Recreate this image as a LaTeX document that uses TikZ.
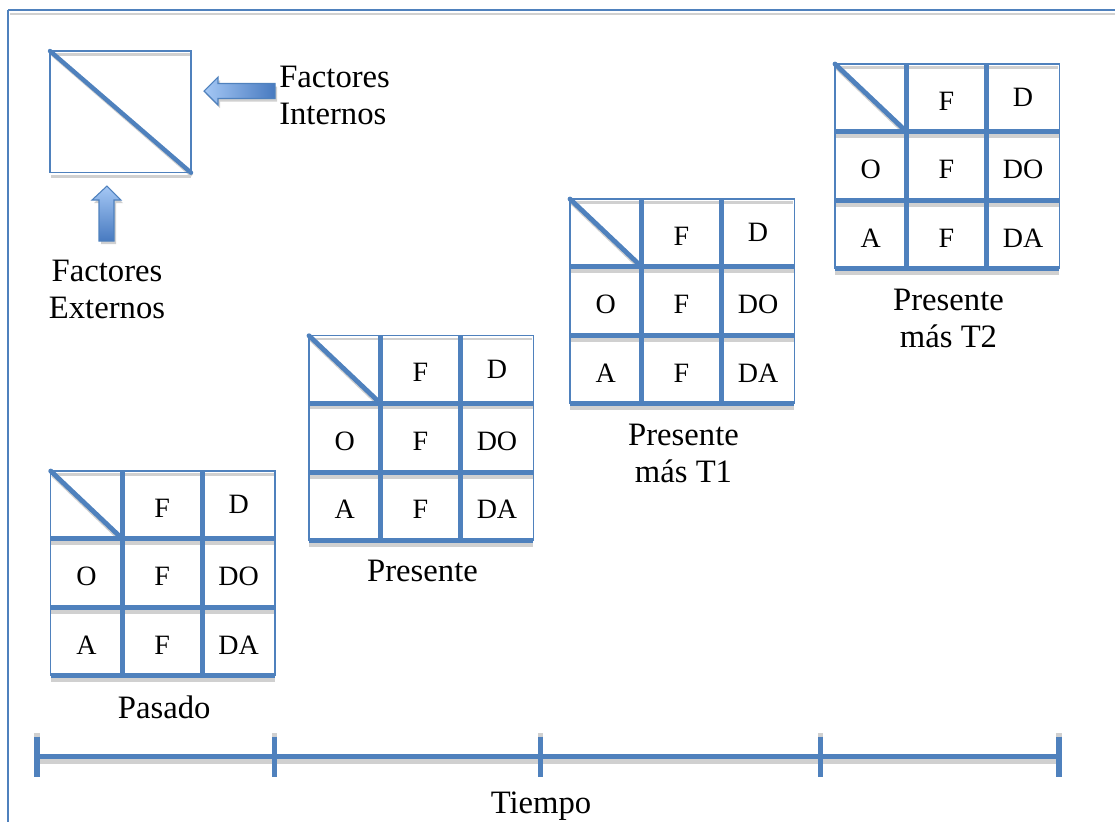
\documentclass[tikz,border=0pt]{standalone}
\usepackage{fontspec}
\setmainfont{Liberation Serif}
\definecolor{ob}{RGB}{79,129,189}
\definecolor{shd}{RGB}{208,208,208}
\definecolor{arlight}{RGB}{165,200,245}
\definecolor{ardark}{RGB}{72,122,192}
\tikzset{
  thinb/.style={draw=ob,line width=1.1pt},
  thickb/.style={draw=ob,line width=3.6pt},
  lbl/.style={font=\fontsize{24.5}{28}\selectfont,inner sep=0pt,align=center,anchor=north},
  cell/.style={font=\fontsize{21}{24}\selectfont,inner sep=0pt},
  blockarrow/.style={draw=ob,line width=0.8pt,line join=miter},
  arrowshadow/.style={fill=shd}
}
\newcommand{\swotgrid}[4]{%
  \begin{scope}[shift={(#2,#3)}]
    % shadows
    \draw[draw=shd,line width=1.6pt] (1,3.5) -- (223.4,3.5);
    \draw[draw=shd,line width=3.2pt] (0,71.6) -- (224.4,71.6);
    \draw[draw=shd,line width=3.2pt] (0,140.8) -- (224.4,140.8);
    \draw[draw=shd,line width=3.2pt] (0,208.8) -- (224.4,208.8);
    \draw[draw=shd,line width=3pt] (2,4) -- (72.5,71.2);
    % frame lines
    \draw[thinb] (0,204.8) -- (0,0) -- (224.4,0) -- (224.4,204.8);
    \draw[thickb] (71.4,0) -- (71.4,204.8);
    \draw[thickb] (151.7,0) -- (151.7,204.8);
    \draw[thickb] (0,67.6) -- (224.4,67.6);
    \draw[thickb] (0,136.8) -- (224.4,136.8);
    \draw[thickb] (0,204.8) -- (224.4,204.8);
    \draw[thickb,line cap=round] (0,0) -- (71.4,67.6);
    % cell texts
    \node[cell] (#1-f1) at (111.5,37) {F};
    \node[cell] (#1-d1) at (188,33.5) {D};
    \node[cell] (#1-o) at (35.7,105.5) {O};
    \node[cell] (#1-f2) at (111.5,105.5) {F};
    \node[cell] (#1-do) at (188,105.5) {DO};
    \node[cell] (#1-a) at (35.7,174) {A};
    \node[cell] (#1-f3) at (111.5,174) {F};
    \node[cell] (#1-da) at (188,174) {DA};
    \node[lbl] (#1-lab) at (113.5,224.5) {#4};
  \end{scope}%
}
\begin{document}
\begin{tikzpicture}[x=0.75pt,y=-0.75pt]
\useasboundingbox (0,0) rectangle (1115,822);
% page frame
\draw[draw=shd,line width=1.6pt] (10,14) -- (1115,14);
\draw[thinb] (8,10) -- (1115,10);
\draw[thinb] (8,10) -- (8,822);

% legend box
\draw[draw=shd,line width=1.6pt] (51,54.5) -- (190,54.5);
\draw[draw=shd,line width=1.6pt] (51,176.5) -- (191,176.5);
\draw[draw=shd,line width=2.8pt] (53,55) -- (192,175.5);
\draw[thinb] (50,51) rectangle (191,172.7);
\draw[draw=ob,line width=3.3pt,line cap=round] (50,51) -- (191,172.7);

% block arrows
\fill[arrowshadow] (206,94) -- (220,80) -- (220,86.5) -- (277,86.5) -- (277,101.5) -- (220,101.5) -- (220,108) -- cycle;
\draw[blockarrow,left color=arlight,right color=ardark] (204,91) -- (218,77) -- (218,83.5) -- (275,83.5) -- (275,98.5) -- (218,98.5) -- (218,105) -- cycle;
\fill[arrowshadow] (109,189) -- (123,203) -- (116,203) -- (116,244) -- (101,244) -- (101,203) -- (94,203) -- cycle;
\draw[blockarrow,top color=arlight,bottom color=ardark] (107,186) -- (121,200) -- (114,200) -- (114,241) -- (99,241) -- (99,200) -- (92,200) -- cycle;

\node[lbl,anchor=north west,align=left] (fint) at (279,65.5) {Factores\\Internos};
\node[lbl] (fext) at (107,259.5) {Factores\\Externos};

% grids
\swotgrid{pasado}{50.7}{471}{Pasado}
\swotgrid{presente}{309}{335.7}{Presente}
\swotgrid{tuno}{570}{199}{Presente\\más T1}
\swotgrid{tdos}{835}{64}{Presente\\más T2}

% timeline
\coordinate (t0) at (37,756.5);
\coordinate (t1) at (274.3,756.5);
\coordinate (t2) at (540.3,756.5);
\coordinate (t3) at (820.7,756.5);
\coordinate (t4) at (1059,756.5);
\draw[draw=shd,line width=3.2pt] ([yshift=-3.8pt]t0) -- ([yshift=-3.8pt]t4);
\foreach \t in {t0,t1,t2,t3,t4}{
  \draw[draw=shd,line width=3.8pt] ([yshift=-12pt]\t) -- ([yshift=18pt]\t);
}
\draw[draw=ob,line width=3.8pt] (t0) -- (t4);
\foreach \t in {t0,t1,t2,t3,t4}{
  \draw[draw=ob,line width=3.8pt] ([yshift=15pt]\t) -- ([yshift=-15pt]\t);
}
\node[lbl] (tiempo) at (541,791.5) {Tiempo};
\end{tikzpicture}
\end{document}
